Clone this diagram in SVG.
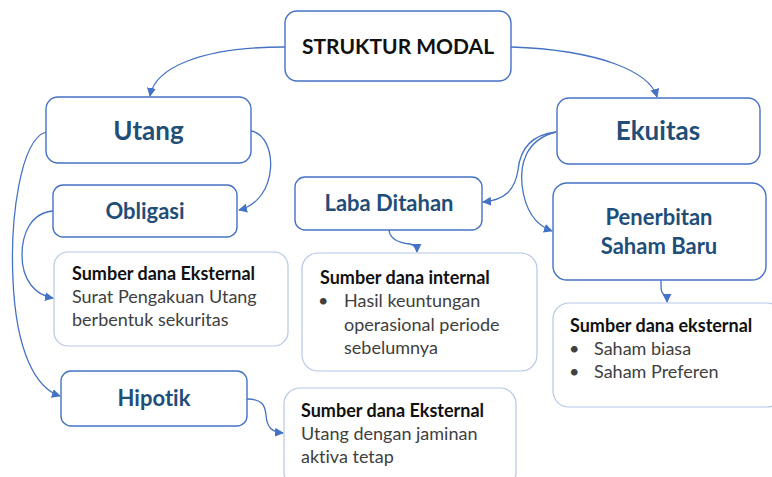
<svg xmlns="http://www.w3.org/2000/svg" width="772" height="477" viewBox="0 0 772 477">
<defs>
<marker id="ah" viewBox="0 0 10 10" refX="9" refY="5" markerWidth="9" markerHeight="9" markerUnits="userSpaceOnUse" orient="auto">
<path d="M0,0 L10,5 L0,10 z" fill="#4472C4"/>
</marker>
<style>
text{font-variant-ligatures:none}
.node{fill:#fff;stroke:#4472C4;stroke-width:1.4}
.info{fill:#fff;stroke:#B4C7E7;stroke-width:1.2}
.t{font-family:Lato,"Open Sans",sans-serif;font-weight:bold;fill:#1F4E79;text-anchor:middle}
.h{font-family:Lato,"Open Sans",sans-serif;font-weight:bold;fill:#111;font-size:18px}
.b{font-family:Lato,"Open Sans",sans-serif;fill:#404040;font-size:18px}
.c{fill:none;stroke:#4472C4;stroke-width:1.3;marker-end:url(#ah)}
</style>
</defs>
<rect width="772" height="477" fill="#fff"/>
<g id="connectors">
<path class="c" d="M285,47 C200,47 155,68 150,96"/>
<path class="c" d="M511,47 C600,50 650,72 657,97"/>
<path class="c" d="M251,131 C278,135 280,200 239,210"/>
<path class="c" d="M46,132 C20,140 10,220 13,280 C16,350 35,388 60,396"/>
<path class="c" d="M53,211 C30,213 22,235 22,255 C22,280 35,295 53,298"/>
<path class="c" d="M247,399 C262,399 265,405 266,415 C267,428 272,432 283,433"/>
<path class="c" d="M556,132 C530,135 520,150 518,170 C515,190 505,200 483,202"/>
<path class="c" d="M556,132 C525,140 520,165 522,185 C525,210 535,225 552,231"/>
<path class="c" d="M389,230 C390,240 400,243 410,244 C415,245 417,248 417,252"/>
<path class="c" d="M661,280 C661,290 661,292 664,295 C666,297 667,299 667,302"/>
</g>
<g id="struktur">
<rect class="node" x="285" y="11" width="226" height="70" rx="12"/>
<text class="t" x="398" y="54" font-size="21" style="fill:#111">STRUKTUR MODAL</text>
</g>
<g id="utang">
<rect class="node" x="46" y="97" width="205" height="66" rx="12"/>
<text class="t" x="148.5" y="140" font-size="26">Utang</text>
</g>
<g id="ekuitas">
<rect class="node" x="557" y="98" width="203" height="66" rx="12"/>
<text class="t" x="658" y="140" font-size="26">Ekuitas</text>
</g>
<g id="obligasi">
<rect class="node" x="53" y="185" width="184" height="52" rx="10"/>
<text class="t" x="145" y="219" font-size="22">Obligasi</text>
</g>
<g id="laba">
<rect class="node" x="295" y="177" width="187" height="53" rx="10"/>
<text class="t" x="389" y="211" font-size="22">Laba Ditahan</text>
</g>
<g id="penerbitan">
<rect class="node" x="553" y="183" width="213" height="97" rx="14"/>
<text class="t" x="659" y="225" font-size="22">Penerbitan</text>
<text class="t" x="659" y="254" font-size="22">Saham Baru</text>
</g>
<g id="hipotik">
<rect class="node" x="61" y="371" width="186" height="55" rx="10"/>
<text class="t" x="154" y="406" font-size="22">Hipotik</text>
</g>
<g id="info-obligasi">
<rect class="info" x="54" y="252" width="234" height="94" rx="14"/>
<text class="h" x="72" y="280">Sumber dana Eksternal</text>
<text class="b" x="72" y="303">Surat Pengakuan Utang</text>
<text class="b" x="72" y="326">berbentuk sekuritas</text>
</g>
<g id="info-laba">
<rect class="info" x="302" y="253" width="235" height="118" rx="16"/>
<text class="h" x="320" y="284">Sumber dana internal</text>
<text class="b" x="318" y="307">•</text>
<text class="b" x="344" y="307">Hasil keuntungan</text>
<text class="b" x="344" y="331">operasional periode</text>
<text class="b" x="344" y="354">sebelumnya</text>
</g>
<g id="info-hipotik">
<rect class="info" x="284" y="388" width="232" height="100" rx="16"/>
<text class="h" x="301" y="417">Sumber dana Eksternal</text>
<text class="b" x="301" y="440">Utang dengan jaminan</text>
<text class="b" x="301" y="463">aktiva tetap</text>
</g>
<g id="info-penerbitan">
<rect class="info" x="553" y="303" width="230" height="104" rx="16"/>
<text class="h" x="570" y="332">Sumber dana eksternal</text>
<text class="b" x="569" y="355">•</text>
<text class="b" x="594" y="355">Saham biasa</text>
<text class="b" x="569" y="378">•</text>
<text class="b" x="594" y="378">Saham Preferen</text>
</g>
</svg>
